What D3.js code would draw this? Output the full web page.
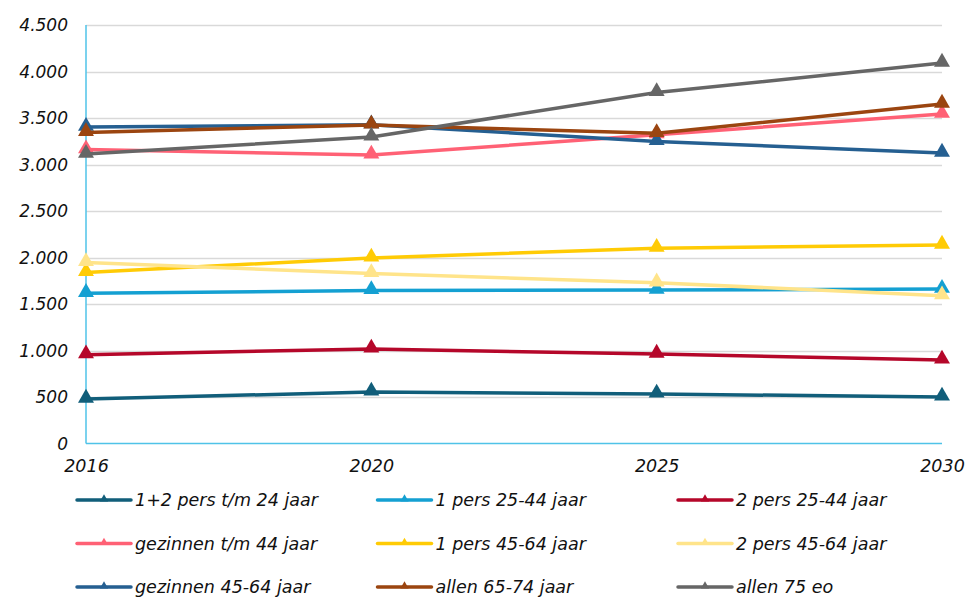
<!DOCTYPE html>
<html>
<head>
<meta charset="utf-8">
<script src="https://cdn.jsdelivr.net/npm/d3@7"></script>
<style>
  body { margin: 0; background: #fff; }
  svg { display: block; font-family: "DejaVu Sans", Verdana, sans-serif; font-style: italic; }
</style>
</head>
<body>
<script>
const years = ["2016", "2020", "2025", "2030"];
const yTicks = [0, 500, 1000, 1500, 2000, 2500, 3000, 3500, 4000, 4500];

const seriesNames = [
  "1+2 pers t/m 24 jaar", "1 pers 25-44 jaar", "2 pers 25-44 jaar",
  "gezinnen t/m 44 jaar", "1 pers 45-64 jaar", "2 pers 45-64 jaar",
  "gezinnen 45-64 jaar", "allen 65-74 jaar", "allen 75 eo"
];
const seriesColors = [
  "#115e7a", "#14a0d2", "#b5072a",
  "#ff6175", "#ffcb05", "#ffe48a",
  "#255f91", "#9b4510", "#666666"
];
const seriesValues = [
  [478, 554, 532, 500],
  [1615, 1645, 1650, 1660],
  [955, 1016, 962, 898],
  [3160, 3102, 3320, 3542],
  [1840, 1995, 2100, 2134],
  [1946, 1828, 1728, 1590],
  [3402, 3428, 3248, 3123],
  [3345, 3425, 3335, 3650],
  [3112, 3296, 3774, 4091]
];

function main() {
  const width = 968, height = 597;
  const x = d3.scalePoint().domain(years).range([86, 942]);
  const y = d3.scaleLinear().domain([0, 4500]).range([443.5, 25]);
  const fmt = d3.formatLocale({ decimal: ",", thousands: ".", grouping: [3], currency: ["€", ""] }).format(",d");

  const svg = d3.create("svg").attr("width", width).attr("height", height);

  // gridlines
  svg.append("g")
    .selectAll("line")
    .data(yTicks.filter(d => d > 0))
    .join("line")
    .attr("x1", x(years[0])).attr("x2", x(years[years.length - 1]))
    .attr("y1", d => Math.round(y(d)) + 0.5).attr("y2", d => Math.round(y(d)) + 0.5)
    .attr("stroke", "#d9d9d9").attr("stroke-width", 1.3);

  // y axis labels
  const yAxis = svg.append("g")
    .attr("transform", "translate(68,0)")
    .call(d3.axisLeft(y).tickValues(yTicks).tickFormat(fmt).tickSize(0).tickPadding(0))
    .attr("font-family", null).attr("font-size", 17);
  yAxis.select(".domain").remove();
  yAxis.selectAll("text").attr("fill", "#111").attr("dy", "0.35em");

  // x axis
  const xAxis = svg.append("g")
    .attr("transform", `translate(0,${y(0)})`)
    .call(d3.axisBottom(x).tickSize(0).tickPadding(16))
    .attr("font-family", null).attr("font-size", 17.5);
  xAxis.select(".domain").remove();
  xAxis.selectAll("text").attr("fill", "#111");

  // axis lines
  svg.append("line")
    .attr("x1", x(years[0])).attr("x2", x(years[years.length - 1]))
    .attr("y1", y(0)).attr("y2", y(0))
    .attr("stroke", "#4fc3e8").attr("stroke-width", 1.5);
  svg.append("line")
    .attr("x1", x(years[0])).attr("x2", x(years[0]))
    .attr("y1", y(0)).attr("y2", y(4500))
    .attr("stroke", "#4fc3e8").attr("stroke-width", 1.5);

  const line = d3.line().x((d, i) => x(years[i])).y(d => y(d));
  const tri = d3.symbol(d3.symbolTriangle, 110);

  seriesValues.forEach((vals, s) => {
    const g = svg.append("g");
    g.append("path")
      .attr("d", line(vals))
      .attr("fill", "none")
      .attr("stroke", seriesColors[s])
      .attr("stroke-width", 3.5)
      .attr("stroke-linejoin", "round");
    g.selectAll("path.m")
      .data(vals)
      .join("path")
      .attr("class", "m")
      .attr("d", tri)
      .attr("transform", (d, i) => `translate(${x(years[i])},${y(d) - 1})`)
      .attr("fill", seriesColors[s]);
  });

  // legend
  const leg = svg.append("g");
  const smallTri = d3.symbol(d3.symbolTriangle, 30);
  seriesNames.forEach((name, i) => {
    const col = i % 3, row = Math.floor(i / 3);
    const lg = leg.append("g").attr("transform", `translate(${77 + col * 300.5},${500 + row * 43.5})`);
    lg.append("line").attr("x1", 0).attr("x2", 54).attr("y1", 0).attr("y2", 0)
      .attr("stroke", seriesColors[i]).attr("stroke-width", 3.5).attr("stroke-linecap", "round");
    lg.append("path").attr("d", smallTri).attr("transform", "translate(27,-1)").attr("fill", seriesColors[i]);
    lg.append("text").attr("x", 58).attr("y", 0).attr("dy", "0.35em")
      .attr("font-size", 17.5).attr("fill", "#111").text(name);
  });

  document.body.appendChild(svg.node());
}

main();
</script>
</body>
</html>
